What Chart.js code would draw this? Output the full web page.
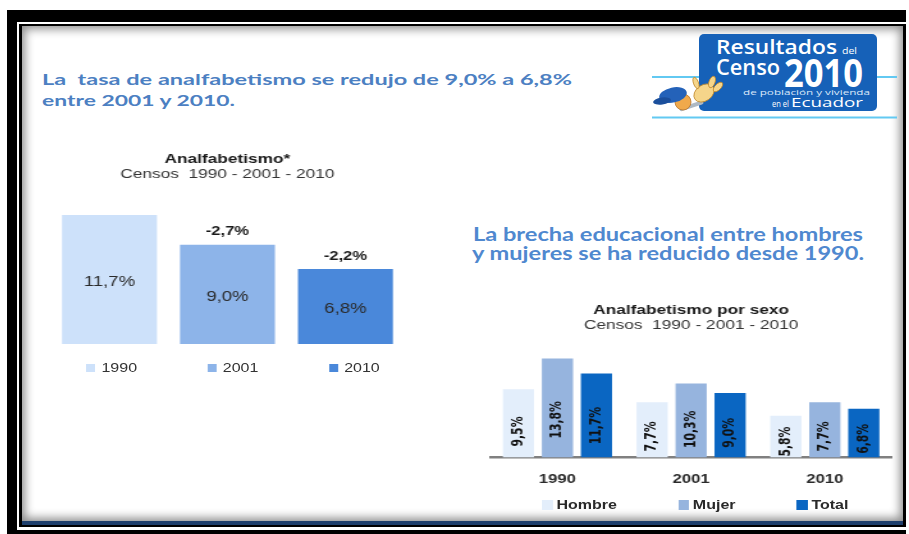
<!DOCTYPE html>
<html lang="es">
<head>
<meta charset="utf-8">
<title>Analfabetismo - Resultados del Censo 2010</title>
<script src="https://cdn.jsdelivr.net/npm/chart.js@4.4.1/dist/chart.umd.min.js"></script>
<style>
html,body{margin:0;padding:0;background:#fff;}
body{width:909px;height:534px;position:relative;overflow:hidden;font-family:"Liberation Sans",Arial,sans-serif;}
.abs{position:absolute;}
#fA{left:7px;top:10px;width:899px;height:524px;background:#000;}
#fB{left:17px;top:22px;width:889px;height:508px;background:#fff;}
#fC{left:19px;top:24px;width:887px;height:503px;background:#000;}
#fN{left:22px;top:521px;width:881px;height:4px;background:#1e3f6c;}
#fD{left:22px;top:26px;width:881px;height:495px;background:#fff;box-shadow:inset 0 0 10px 3px rgba(0,0,0,.45);}
#ov{left:0;top:0;}
.wrap{position:absolute;transform-origin:0 0;transform:scaleX(1.28);}
#w1{left:40px;top:140px;width:297px;height:245px;}
#w2{left:470px;top:290px;width:336px;height:225px;}
canvas{position:absolute;left:0;top:0;}
.leg{position:absolute;display:flex;align-items:center;white-space:nowrap;}
.leg .li{display:flex;align-items:center;}
#leg1{left:36px;top:220px;height:16px;gap:55px;}
#leg1 .sw{display:inline-block;width:7px;height:8px;margin-right:5px;}
#leg1 .tx{font-size:12.5px;color:#333;line-height:16px;}
#leg2{left:56px;top:207px;height:16px;gap:47.7px;}
#leg2 .sw{display:inline-block;width:8.6px;height:10px;margin-right:3px;}
#leg2 .tx{font-weight:bold;font-size:12.5px;color:#2a2a2a;line-height:16px;}
.hd{font-family:Lato,"Open Sans",sans-serif;font-weight:bold;fill:#4c80c2;white-space:pre;}
.lg{font-family:"Open Sans","Noto Sans",sans-serif;fill:#fff;}
</style>
</head>
<body>
<div class="abs" id="fA"></div>
<div class="abs" id="fB"></div>
<div class="abs" id="fC"></div>
<div class="abs" id="fD"></div>
<div class="abs" id="fN"></div>

<svg class="abs" id="ov" width="909" height="534" xmlns="http://www.w3.org/2000/svg">
  <!-- encabezados -->
  <text class="hd" x="42" y="85" font-size="16" textLength="530" lengthAdjust="spacingAndGlyphs">La  tasa de analfabetismo se redujo de 9,0% a 6,8%</text>
  <text class="hd" x="42" y="106" font-size="16" textLength="193" lengthAdjust="spacingAndGlyphs">entre 2001 y 2010.</text>
  <text class="hd" x="473" y="241" font-size="19" textLength="390" lengthAdjust="spacingAndGlyphs" style="fill:#4f88cf">La brecha educacional entre hombres</text>
  <text class="hd" x="472" y="260" font-size="19" textLength="392" lengthAdjust="spacingAndGlyphs" style="fill:#4f88cf">y mujeres se ha reducido desde 1990.</text>

  <!-- logotipo -->
  <line x1="652" y1="77" x2="897" y2="77" stroke="#62c9f2" stroke-width="2"/>
  <line x1="652" y1="117.5" x2="897" y2="117.5" stroke="#62c9f2" stroke-width="2"/>
  <rect x="699" y="34" width="178" height="77" rx="5" fill="#1661b8"/>
  <text class="lg" x="716" y="54" font-size="19" font-weight="600" textLength="121" lengthAdjust="spacingAndGlyphs">Resultados</text>
  <text class="lg" x="842" y="54" font-size="9" textLength="15" lengthAdjust="spacingAndGlyphs">del</text>
  <text class="lg" x="716" y="74.5" font-size="21" font-weight="600" textLength="64" lengthAdjust="spacingAndGlyphs">Censo</text>
  <text class="lg" x="784" y="86.5" font-size="40" font-weight="bold" textLength="79" lengthAdjust="spacingAndGlyphs">2010</text>
  <text class="lg" x="743" y="94.5" font-size="8" textLength="127" lengthAdjust="spacingAndGlyphs" style="fill:#dbe8f8">de población y vivienda</text>
  <text class="lg" x="772" y="107" font-size="9" textLength="17" lengthAdjust="spacingAndGlyphs">en el</text>
  <text class="lg" x="791" y="107" font-size="13" textLength="72" lengthAdjust="spacingAndGlyphs">Ecuador</text>

  <!-- mascota -->
  <g>
    <rect x="679" y="104" width="25" height="4" rx="2" fill="#aeb9c4" transform="rotate(-18 691 106)"/>
    <circle cx="683" cy="102" r="8" fill="#f0a94b" stroke="#b8732a" stroke-width="0.8"/>
    <ellipse cx="673" cy="95" rx="14" ry="7.5" fill="#2462b9" transform="rotate(-12 673 95)"/>
    <ellipse cx="662" cy="101" rx="9" ry="3.5" fill="#1b4f9c" transform="rotate(-8 662 101)"/>
    <ellipse cx="704" cy="93" rx="11" ry="8" fill="#f5d58a" stroke="#c28a2c" stroke-width="0.8" transform="rotate(-35 704 93)"/>
    <ellipse cx="712" cy="82" rx="3" ry="6" fill="#f5d58a" stroke="#c28a2c" stroke-width="0.8" transform="rotate(20 712 82)"/>
    <ellipse cx="718" cy="87" rx="3" ry="6" fill="#f5d58a" stroke="#c28a2c" stroke-width="0.8" transform="rotate(45 718 87)"/>
    <ellipse cx="696" cy="83" rx="2.5" ry="6" fill="#f5d58a" stroke="#c28a2c" stroke-width="0.8" transform="rotate(-20 696 83)"/>
  </g>
</svg>

<div class="wrap" id="w1">
  <canvas id="c1" width="297" height="206"></canvas>
  <div class="leg" id="leg1"></div>
</div>
<div class="wrap" id="w2">
  <canvas id="c2" width="336" height="211"></canvas>
  <div class="leg" id="leg2"></div>
</div>

<script>
// ---------- datos ----------
const anios = ['1990', '2001', '2010'];
const tasaAnalfabetismo = [11.7, 9.0, 6.8];
const variacion = ['', '-2,7%', '-2,2%'];
const seriesSexo = ['Hombre', 'Mujer', 'Total'];
const hombre = [9.5, 7.7, 5.8];
const mujer = [13.8, 10.3, 7.7];
const total = [11.7, 9.0, 6.8];

// ---------- estilos ----------
const coloresAnios = ['#cde1fa', '#8db4e9', '#4a88da'];
const coloresSexo = ['#e3eefb', '#96b4de', '#0a66c2'];
const fuente = '"Liberation Sans", Arial, sans-serif';
const fuenteNarrow = '"Liberation Sans Narrow", "DejaVu Sans Condensed", sans-serif';

Chart.defaults.font.family = fuente;
Chart.defaults.animation = false;

const fmt = v => v.toFixed(1).replace('.', ',') + '%';

const etiquetas1 = {
  id: 'etiquetas1',
  afterDatasetsDraw(chart) {
    const ctx = chart.ctx;
    const ds = chart.data.datasets[0];
    chart.getDatasetMeta(0).data.forEach((bar, i) => {
      ctx.save();
      ctx.textAlign = 'center';
      ctx.textBaseline = 'middle';
      ctx.fillStyle = '#2a2a2a';
      ctx.font = '14.5px ' + fuente;
      ctx.fillText(fmt(ds.data[i]), bar.x, (bar.y + bar.base) / 2 + 2.5);
      if (variacion[i]) {
        ctx.font = 'bold 13px ' + fuente;
        ctx.fillStyle = '#1a1a1a';
        ctx.fillText(variacion[i], bar.x, bar.y - 13);
      }
      ctx.restore();
    });
  }
};

const etiquetas2 = {
  id: 'etiquetas2',
  afterDatasetsDraw(chart) {
    const ctx = chart.ctx;
    chart.data.datasets.forEach((ds, di) => {
      chart.getDatasetMeta(di).data.forEach((bar, i) => {
        const h = bar.base - bar.y;
        ctx.save();
        ctx.translate(bar.x, bar.base - 0.38 * h);
        ctx.rotate(-Math.PI / 2);
        ctx.textAlign = 'center';
        ctx.textBaseline = 'middle';
        ctx.fillStyle = '#111';
        ctx.font = 'bold 12px ' + fuenteNarrow;
        ctx.fillText(fmt(ds.data[i]), 0, 0);
        ctx.restore();
      });
    });
  }
};

new Chart(document.getElementById('c1'), {
  type: 'bar',
  data: {
    labels: anios,
    datasets: [{
      label: 'Analfabetismo',
      data: tasaAnalfabetismo,
      backgroundColor: coloresAnios,
      barPercentage: 0.805,
      categoryPercentage: 1
    }]
  },
  options: {
    responsive: false,
    animation: false,
    layout: { padding: { left: 8.2, right: 12.3, top: 0, bottom: 2 } },
    plugins: {
      legend: { display: false },
      tooltip: { enabled: false },
      title: {
        display: true, text: 'Analfabetismo*', color: '#1a1a1a',
        font: { size: 13.5, weight: 'bold', lineHeight: 1.1 },
        padding: { top: 12, bottom: 0 }
      },
      subtitle: {
        display: true, text: 'Censos  1990 - 2001 - 2010', color: '#333',
        font: { size: 13.5, lineHeight: 1.1 },
        padding: { top: 0, bottom: 8 }
      }
    },
    scales: {
      x: { display: false },
      y: { display: false, min: 0, max: 14 }
    }
  },
  plugins: [etiquetas1]
});

new Chart(document.getElementById('c2'), {
  type: 'bar',
  data: {
    labels: anios,
    datasets: [
      { label: seriesSexo[0], data: hombre, backgroundColor: coloresSexo[0] },
      { label: seriesSexo[1], data: mujer, backgroundColor: coloresSexo[1] },
      { label: seriesSexo[2], data: total, backgroundColor: coloresSexo[2] }
    ]
  },
  options: {
    responsive: false,
    animation: false,
    datasets: { bar: { barPercentage: 0.8, categoryPercentage: 0.875 } },
    layout: { padding: { left: 16.1, right: 6.6, top: 0, bottom: 0 } },
    plugins: {
      legend: { display: false },
      tooltip: { enabled: false },
      title: {
        display: true, text: 'Analfabetismo por sexo', color: '#1a1a1a',
        font: { size: 13.5, weight: 'bold', lineHeight: 1.1 },
        padding: { top: 12.6, bottom: 0 }
      },
      subtitle: {
        display: true, text: 'Censos  1990 - 2001 - 2010', color: '#333',
        font: { size: 13.5, lineHeight: 1.1 },
        padding: { top: 0, bottom: 17.6 }
      }
    },
    scales: {
      x: {
        grid: { display: false, drawTicks: false },
        border: { display: true, color: '#808080', width: 2.5 },
        ticks: { color: '#2a2a2a', padding: 14, font: { size: 13, weight: 'bold' } }
      },
      y: { display: false, min: 0, max: 15 }
    }
  },
  plugins: [etiquetas2]
});

// ---------- leyendas (HTML, generadas de los arreglos) ----------
function leyenda(id, textos, colores) {
  const el = document.getElementById(id);
  textos.forEach((t, i) => {
    const li = document.createElement('span');
    li.className = 'li';
    const sw = document.createElement('span');
    sw.className = 'sw';
    sw.style.background = colores[i];
    const tx = document.createElement('span');
    tx.className = 'tx';
    tx.textContent = t;
    li.appendChild(sw);
    li.appendChild(tx);
    el.appendChild(li);
  });
}
leyenda('leg1', anios, coloresAnios);
leyenda('leg2', seriesSexo, coloresSexo);
</script>
</body>
</html>
